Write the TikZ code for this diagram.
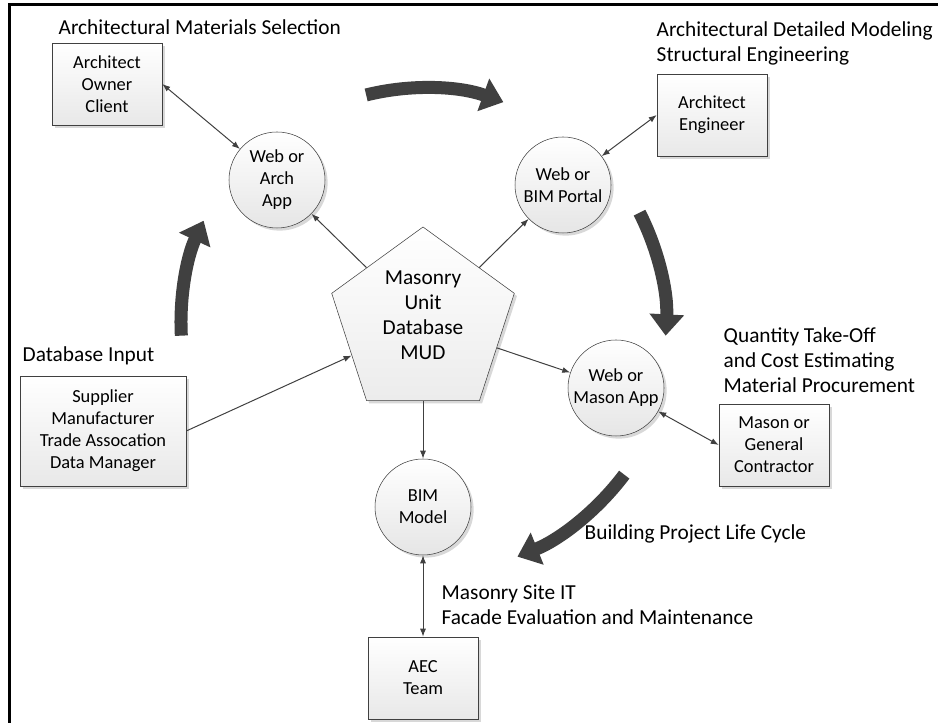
\documentclass[tikz,border=0pt]{standalone}
\usepackage{fontspec}
\setmainfont{Carlito}
\usepackage{xcolor}
\usetikzlibrary{shapes.geometric, arrows.meta, positioning, shadows, calc}
\definecolor{edgegray}{HTML}{404040}

\begin{document}
\begin{tikzpicture}[x=0.75pt, y=0.75pt,
  every node/.style={font=\fontsize{13.8}{16.5}\selectfont},
  softshadow/.style={drop shadow={shadow xshift=2pt, shadow yshift=-2pt,
                     fill=black!30, opacity=0.5}},
  actor/.style={rectangle, draw=edgegray, top color=white, bottom color=gray!18,
                minimum width=82.5pt, minimum height=61.5pt, align=center,
                softshadow},
  app/.style={circle, draw=edgegray, top color=white, bottom color=gray!20,
              minimum size=72pt, inner sep=0pt, align=center, softshadow},
  hub/.style={regular polygon, regular polygon sides=5, draw=edgegray,
              top color=white, bottom color=gray!15, minimum size=144pt,
              inner sep=0pt, softshadow},
  hubtext/.style={font=\fontsize{16}{18.75}\selectfont, align=center},
  phase/.style={font=\fontsize{16}{18.75}\selectfont, align=left, anchor=west},
  link/.style={edgegray, line width=0.75pt, -{Latex[length=6pt,width=4.5pt]}},
  duplex/.style={link, {Latex[length=6pt,width=4.5pt]}-{Latex[length=6pt,width=4.5pt]}},
  lifecycle/.style={line width=9.75pt, edgegray,
                    -{Triangle[length=16pt,width=25pt]}}
]
  \useasboundingbox (0,0) rectangle (938,723);

  % ── Frame ─────────────────────────────────────────────────────
  \draw[line width=2.25pt] (9,0) |- (938,718);

  % ── Central database ──────────────────────────────────────────
  \node[hub, label={[hubtext, yshift=6pt]center:{Masonry\\Unit\\Database\\MUD}}]
        (mud) at (423,400) {};

  % ── Applications ──────────────────────────────────────────────
  \node[app] (archapp)   at (277,543) {Web or\\Arch\\App};
  \node[app] (bimportal) at (563,538) {Web or\\BIM Portal};
  \node[app] (masonapp)  at (616,335) {Web or\\Mason App};
  \node[app] (bimmodel)  at (423,216) {BIM\\Model};

  % ── Stakeholders ──────────────────────────────────────────────
  \node[actor] (aoc) at (107,639) {Architect\\Owner\\Client};
  \node[actor] (ae)  at (712,608) {Architect\\Engineer};
  \node[actor] (mgc) at (774,278) {Mason or\\General\\Contractor};
  \node[actor, minimum width=124.5pt, minimum height=82.5pt] (sup) at (103,292)
        {Supplier\\Manufacturer\\Trade Assocation\\Data Manager};
  \node[actor] (aec) at (423,45)  {AEC\\Team};

  % ── Phase labels ──────────────────────────────────────────────
  \node[phase] (lbl_sel) at (54,696)  {Architectural Materials Selection};
  \node[phase] (lbl_mod) at (652,680) {Architectural Detailed Modeling\\Structural Engineering};
  \node[phase] (lbl_qto) at (719,363) {Quantity Take-Off\\and Cost Estimating\\Material Procurement};
  \node[phase] (lbl_inp) at (18,367)  {Database Input};
  \node[phase] (lbl_sit) at (437,118) {Masonry Site IT\\Facade Evaluation and Maintenance};
  \node[phase] (lbl_cyc) at (580,189) {Building Project Life Cycle};

  % ── Arrows: database links ────────────────────────────────────
  \foreach \a/\b in {mud/archapp, mud/bimportal, mud/masonapp, mud/bimmodel,
                     sup.east/mud}
    \draw[link] (\a) -- (\b);

  % ── Arrows: stakeholder exchange ──────────────────────────────
  \foreach \a/\b in {aoc.east/archapp, bimportal/ae.west, masonapp/mgc.west,
                     bimmodel/aec}
    \draw[duplex] (\a) -- (\b);

  % ── Life cycle arrows ─────────────────────────────────────────
  \coordinate (hubc) at (mud.center);
  \draw[lifecycle] (hubc) ++(104:235) arc[start angle=104, end angle=70, radius=235];
  \draw[lifecycle] (hubc) ++(27:243)  arc[start angle=27,  end angle=-3,  radius=243];
  \draw[lifecycle] (hubc) ++(-37:252) arc[start angle=-37, end angle=-68, radius=252];
  \draw[lifecycle] (hubc) ++(183:242) arc[start angle=183, end angle=155, radius=242];

\end{tikzpicture}
\end{document}
